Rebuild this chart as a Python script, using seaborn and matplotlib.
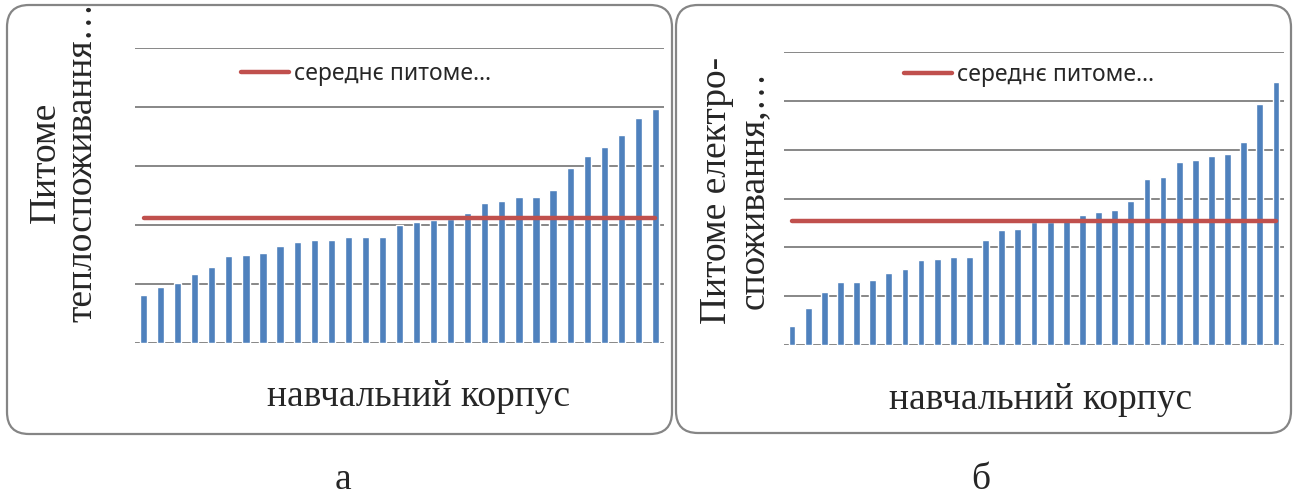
import numpy as np
import matplotlib
matplotlib.use("Agg")
import matplotlib.pyplot as plt
from matplotlib.patches import FancyBboxPatch
from matplotlib.transforms import IdentityTransform
import seaborn as sns

# --- data -------------------------------------------------------------
buildings = list(range(1, 32))

heat_use = [0.82, 0.95, 1.01, 1.17, 1.29, 1.47, 1.49, 1.52, 1.65, 1.72,
            1.74, 1.74, 1.79, 1.80, 1.80, 2.00, 2.05, 2.08, 2.10, 2.21,
            2.38, 2.41, 2.47, 2.48, 2.59, 2.96, 3.17, 3.33, 3.52, 3.82,
            3.96]
heat_mean = 2.12

power_use = [0.39, 0.76, 1.08, 1.28, 1.28, 1.34, 1.47, 1.55, 1.75, 1.76,
             1.80, 1.81, 2.15, 2.36, 2.38, 2.51, 2.52, 2.59, 2.67, 2.72,
             2.76, 2.94, 3.40, 3.45, 3.74, 3.78, 3.88, 3.92, 4.15, 4.93,
             5.38]
power_mean = 2.53

mean_label = "середнє питоме…"
x_title = "навчальний корпус"
heat_title = "Питоме\nтеплоспоживання…"
power_title = "Питоме електро-\nспоживання,…"
panel_tags = ["а", "б"]

# --- style ------------------------------------------------------------
BLUE = "#4F81BD"
RED = "#C0504D"
GRID = "#878787"
FRAME = "#858585"

sns.set_style("white")
plt.rcParams["font.family"] = ["Liberation Serif", "DejaVu Serif"]

W, H = 1295, 497
fig = plt.figure(figsize=(W / 100, H / 100), dpi=100)


def px_axes(x0, x1, y_top, y_bot):
    return fig.add_axes([x0 / W, (H - y_bot) / H, (x1 - x0) / W, (y_bot - y_top) / H])


def draw_panel(ax, values, mean_value, ymax, legend_xy):
    n = len(values)
    sns.barplot(x=buildings, y=values, color=BLUE, saturation=1, width=0.42,
                ax=ax, zorder=2)
    sns.lineplot(x=np.arange(n), y=[mean_value] * n, color=RED, linewidth=3.2,
                 ax=ax, zorder=3, label=mean_label, legend=False,
                 solid_capstyle="round")
    ax.set_xlim(-0.5, n - 0.5)
    ax.set_ylim(0, ymax)
    ax.set_yticks(range(0, ymax + 1))
    ax.yaxis.grid(True, color=GRID, linewidth=1.4)
    ax.set_axisbelow(True)
    ax.tick_params(left=False, bottom=False, labelleft=False, labelbottom=False)
    for s in ax.spines.values():
        s.set_visible(False)
    ax.set_xlabel("")
    ax.set_ylabel("")
    for ln in ax.get_lines():
        ln.set_clip_on(False)
    leg = ax.legend(loc="center left",
                    bbox_to_anchor=(legend_xy[0] / W, (H - legend_xy[1]) / H),
                    bbox_transform=fig.transFigure, frameon=False,
                    borderpad=0, borderaxespad=0, handlelength=2.1,
                    handletextpad=0.2,
                    prop={"family": ["Noto Sans", "DejaVu Sans"], "size": 16.5})
    for h in leg.legend_handles:
        h.set_linewidth(3.2)
        h.set_solid_capstyle("round")


# left panel: heat
ax1 = px_axes(135, 664, 48, 343)
draw_panel(ax1, heat_use, heat_mean, 5, (241, 74))

# right panel: electricity
ax2 = px_axes(784, 1284, 52, 345)
draw_panel(ax2, power_use, power_mean, 6, (904, 75))

# rounded frames around each chart
for (x0, x1, y_top, y_bot) in [(7, 672, 5, 434), (676, 1291, 5, 433)]:
    box = FancyBboxPatch((x0, H - y_bot), x1 - x0, y_bot - y_top,
                         boxstyle="round,pad=0,rounding_size=22",
                         transform=IdentityTransform(), facecolor="none",
                         edgecolor=FRAME, linewidth=1.6)
    fig.add_artist(box)

TXT = 27
# axis titles
fig.text(419 / W, (H - 397) / H, x_title, ha="center", va="center", fontsize=TXT)
fig.text(1041 / W, (H - 400) / H, x_title, ha="center", va="center", fontsize=TXT)
fig.text(64 / W, (H - 162) / H, heat_title, ha="center", va="center",
         rotation=90, fontsize=TXT, multialignment="center", linespacing=1.1)
fig.text(735 / W, (H - 190) / H, power_title, ha="center", va="center",
         rotation=90, fontsize=TXT, multialignment="center", linespacing=1.1)

# panel tags
fig.text(343 / W, (H - 489) / H, panel_tags[0], ha="center", va="baseline", fontsize=TXT)
fig.text(981 / W, (H - 489) / H, panel_tags[1], ha="center", va="baseline", fontsize=TXT)

fig.savefig("out.png", dpi=100, facecolor="white")
